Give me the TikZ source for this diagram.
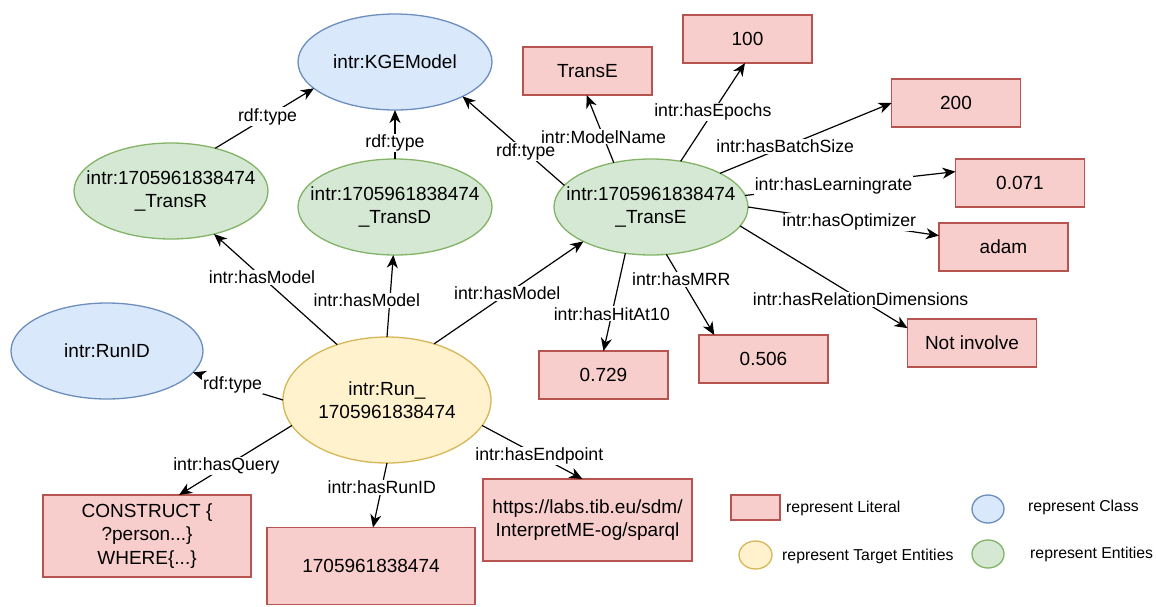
\documentclass[tikz,border=0pt]{standalone}
\usepackage{fontspec}
\setmainfont{Liberation Sans}
\usetikzlibrary{arrows.meta,shapes.geometric}
\definecolor{clsfill}{HTML}{DAE8FC}\definecolor{clsline}{HTML}{6C8EBF}
\definecolor{entfill}{HTML}{D5E8D4}\definecolor{entline}{HTML}{82B366}
\definecolor{tgtfill}{HTML}{FFF2CC}\definecolor{tgtline}{HTML}{D6B656}
\definecolor{litfill}{HTML}{F8CECC}\definecolor{litline}{HTML}{B85450}
\begin{document}
\begin{tikzpicture}[x=1pt,y=-1pt,
  base/.style={inner sep=0pt, outer sep=0pt, line width=1.3pt, align=center, font=\fontsize{19}{23.5}\selectfont},
  oval/.style={base, ellipse, inner xsep=-40pt, inner ysep=-5pt},
  cls/.style={oval, draw=clsline, fill=clsfill, minimum width=194pt, minimum height=96pt},
  ent/.style={oval, draw=entline, fill=entfill, minimum width=194pt, minimum height=96pt},
  tgt/.style={oval, draw=tgtline, fill=tgtfill, minimum width=208pt, minimum height=126pt},
  lit/.style={base, rectangle, draw=litline, fill=litfill, minimum width=129pt, minimum height=48pt},
  rel/.style={line width=1.2pt, -{Stealth[length=13pt,width=11pt,inset=4pt]}},
  lbl/.style={fill=white, inner sep=1pt, font=\fontsize{17.7}{20}\selectfont},
  legtext/.style={anchor=west, inner sep=0pt, font=\fontsize{15.8}{18}\selectfont},
]
\useasboundingbox (0,0) rectangle (1156,606);

% class / entity nodes
\node[cls] (kge) at (395,62) {intr:KGEModel};
\node[ent] (tr) at (171,191) {intr:1705961838474\\\_TransR};
\node[ent] (td) at (395,207) {intr:1705961838474\\\_TransD};
\node[ent] (te) at (651,207) {intr:1705961838474\\\_TransE};
\node[cls, minimum width=192pt] (runid) at (107,351) {intr:RunID};
\node[tgt] (run) at (387,400) {intr:Run\_\\1705961838474};

% literals
\node[lit] (lte) at (587.5,71) {TransE};
\node[lit] (l100) at (747.5,39) {100};
\node[lit] (l200) at (956,103) {200};
\node[lit] (l071) at (1020,183) {0.071};
\node[lit] (ladam) at (1003.5,247) {adam};
\node[lit] (lnot) at (972,343) {Not involve};
\node[lit] (l506) at (763.5,359) {0.506};
\node[lit] (l729) at (603.5,375) {0.729};
\node[lit, minimum width=208pt, minimum height=82pt] (lq) at (147,536) {CONSTRUCT \{\\?person...\}\\WHERE\{...\}};
\node[lit, minimum width=208pt, minimum height=77pt] (lid) at (371,566) {1705961838474};
\node[lit, minimum width=209pt, minimum height=82pt] (lep) at (587.5,520) {https://labs.tib.eu/sdm/\\InterpretME-og/sparql};

% edges
\draw[rel] (tr.44) -- node[lbl,pos=0.53]{rdf:type} (kge.198);
\draw[rel] (td.90) -- node[lbl,pos=0.33]{rdf:type} (kge.270);
\draw[rel] (te.166) -- node[lbl,pos=0.38]{rdf:type} (kge.333);
\draw[rel] (te.130) -- node[lbl,pos=0.38]{intr:ModelName} (lte.268);
\draw[rel] (te.57) -- node[lbl,pos=0.5]{intr:hasEpochs} (l100.264);
\draw[rel] (te.26) -- node[lbl,pos=0.38]{intr:hasBatchSize} (l200.180);
\draw[rel] (te.7) -- node[lbl,pos=0.42]{intr:hasLearningrate} (l071.170);
\draw[rel] (te.0) -- node[lbl,pos=0.53]{intr:hasOptimizer} (ladam.170);
\draw[rel] (te.348) -- node[lbl,pos=0.72]{intr:hasRelationDimensions} (lnot.167);
\draw[rel] (te.288) -- node[lbl,pos=0.31]{intr:hasMRR} (l506.154);
\draw[rel] (te.241) -- node[lbl,pos=0.62]{intr:hasHitAt10} (l729.90);
\draw[rel] (run.132) -- node[lbl,pos=0.61]{intr:hasModel} (tr.315);
\draw[rel] (run.90) -- node[lbl,pos=0.45,xshift=-23pt]{intr:hasModel} (td.268);
\draw[rel] (run.50) -- node[lbl,pos=0.49]{intr:hasModel} (te.207);
\draw[rel] (run.180) -- node[lbl,pos=0.56]{rdf:type} (runid.346);
\draw[rel] (run.195) -- node[lbl,pos=0.58]{intr:hasQuery} (lq.52);
\draw[rel] (run.270) -- node[lbl,pos=0.375]{intr:hasRunID} (lid.87);
\draw[rel] (run.345) -- node[lbl,pos=0.57]{intr:hasEndpoint} (lep.97);

% legend
\node[base, rectangle, draw=litline, fill=litfill, minimum width=49pt, minimum height=25pt] (kl) at (755.5,507.5) {};
\node[legtext] (klt) at (786,508) {represent Literal};
\node[base, ellipse, draw=clsline, fill=clsfill, minimum width=32pt, minimum height=28pt] (kc) at (988,509) {};
\node[legtext] (kct) at (1028,507) {represent Class};
\node[base, ellipse, draw=tgtline, fill=tgtfill, minimum width=33pt, minimum height=28pt] (kt) at (755.5,555) {};
\node[legtext] (ktt) at (782,556) {represent Target Entities};
\node[base, ellipse, draw=entline, fill=entfill, minimum width=32pt, minimum height=28pt] (ke) at (988,554) {};
\node[legtext] (ket) at (1030,554) {represent Entities};
\end{tikzpicture}
\end{document}
